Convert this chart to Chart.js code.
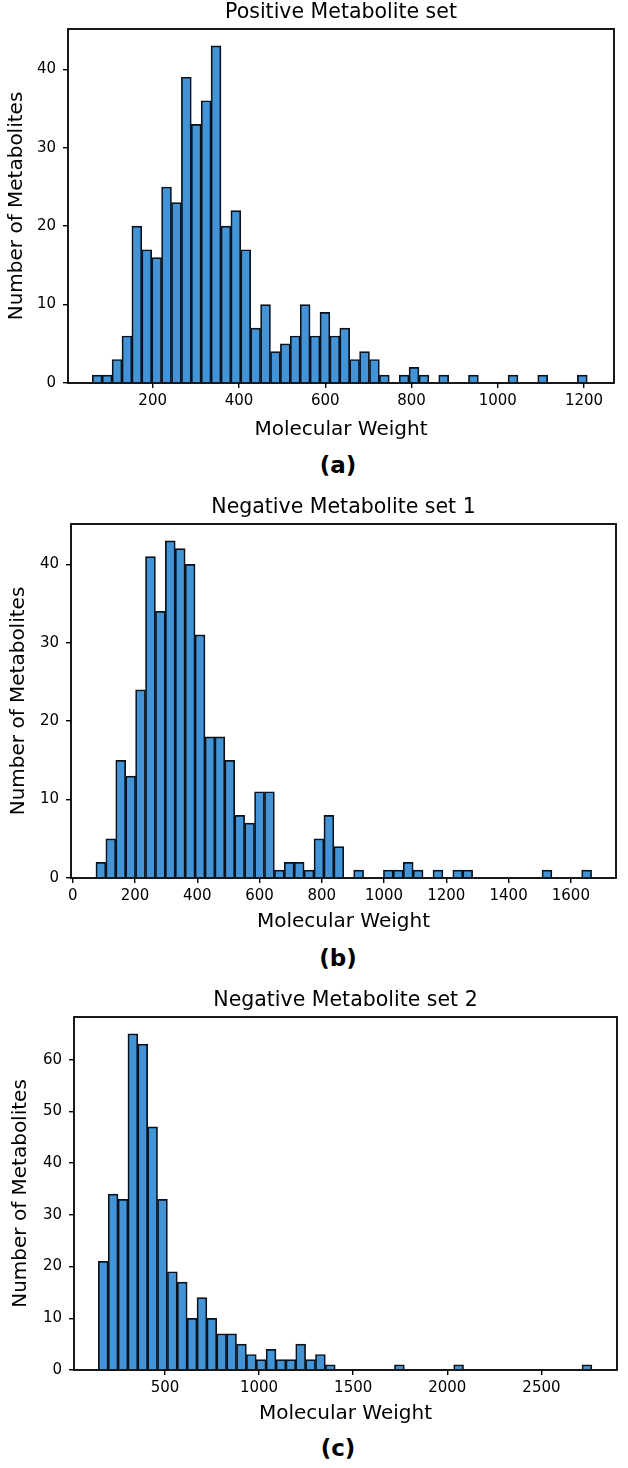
<!DOCTYPE html>
<html><head><meta charset="utf-8">
<script src="https://cdn.jsdelivr.net/npm/chart.js@4.4.1/dist/chart.umd.min.js"></script>
<style>
html,body{margin:0;padding:0;background:#fff;width:628px;height:1468px;overflow:hidden;}
.panel{position:absolute;left:0;width:628px;}
.tag{position:absolute;width:100px;text-align:center;font-family:"DejaVu Sans",sans-serif;font-weight:bold;font-size:23px;line-height:26px;color:#000;}
</style></head><body>
<div class="panel" id="pa"><canvas id="ca"></canvas></div>
<div class="panel" id="pb"><canvas id="cb"></canvas></div>
<div class="panel" id="pc"><canvas id="cc"></canvas></div>
<div class="tag" id="ta">(a)</div>
<div class="tag" id="tb">(b)</div>
<div class="tag" id="tc">(c)</div>
<script>
// ---------- data ----------
const titleA = "Positive Metabolite set";
const titleB = "Negative Metabolite set 1";
const titleC = "Negative Metabolite set 2";
const xLabel = "Molecular Weight";
const yLabel = "Number of Metabolites";

const binStartA = 60, binWidthA = 22.95;
const countsA = [1,1,3,6,20,17,16,25,23,39, 33,36,43,20,22,17,7,10,4,5, 6,10,6,9,6,7,3,4,3,1, 0,1,2,1,0,1,0,0,1,0, 0,0,1,0,0,1,0,0,0,1];
const xTicksA = [200,400,600,800,1000,1200];
const yTicksA = [0,10,20,30,40];

const binStartB = 74.6, binWidthB = 31.84;
const countsB = [2,5,15,13,24,41,34,43,42,40, 31,18,18,15,8,7,11,11,1,2, 2,1,5,8,4,0,1,0,0,1, 1,2,1,0,1,0,1,1,0,0, 0,0,0,0,0,1,0,0,0,1];
const xTicksB = [0,200,400,600,800,1000,1200,1400,1600];
const yTicksB = [0,10,20,30,40];

const binStartC = 146, binWidthC = 52.44;
const countsC = [21,34,33,65,63,47,33,19,17,10, 14,10,7,7,5,3,2,4,2,2, 5,2,3,1,0,0,0,0,0,0, 1,0,0,0,0,0,1,0,0,0, 0,0,0,0,0,0,0,0,0,1];
const xTicksC = [500,1000,1500,2000,2500];
const yTicksC = [0,10,20,30,40,50,60];

// ---------- layout / style ----------
const FONT = "DejaVu Sans";
const panels = [
  {cv:'ca', div:'pa', tag:'ta', title:titleA, start:binStartA, w:binWidthA, counts:countsA, xt:xTicksA, yt:yTicksA,
   xmin:3.7, xmax:1269.5, ymax:45.15, l:68, r:614, t:29, b:383, yTitlePad:5, xTitleDy:47, tagY:465},
  {cv:'cb', div:'pb', tag:'tb', title:titleB, start:binStartB, w:binWidthB, counts:countsB, xt:xTicksB, yt:yTicksB,
   xmin:-5.5, xmax:1745, ymax:45.15, l:71, r:616, t:524, b:878, yTitlePad:6.5, xTitleDy:44, tagY:958},
  {cv:'cc', div:'pc', tag:'tc', title:titleC, start:binStartC, w:binWidthC, counts:countsC, xt:xTicksC, yt:yTicksC,
   xmin:16.9, xmax:2901.4, ymax:68.25, l:74, r:617, t:1017, b:1370, yTitlePad:8.5, xTitleDy:44, tagY:1448}
];
const TITLE_H = 29, XAXIS_H = 58;

const framePlugin = {
  id:'frame',
  afterDatasetsDraw(chart){
    const a = chart.chartArea, ctx = chart.ctx;
    ctx.save();
    ctx.strokeStyle = '#000'; ctx.lineWidth = 1.8;
    ctx.strokeRect(a.left, a.top, a.right - a.left, a.bottom - a.top);
    ctx.restore();
  }
};

panels.forEach(p => {
  const top = p.t - TITLE_H;
  const height = p.b - top + XAXIS_H;
  const div = document.getElementById(p.div);
  div.style.top = top + 'px'; div.style.height = height + 'px';
  const cv = document.getElementById(p.cv);
  cv.width = 628; cv.height = height;
  const tag = document.getElementById(p.tag);
  tag.style.left = (338 - 50) + 'px'; tag.style.top = (p.tagY - 13) + 'px';

  const data = p.counts.map((c, i) => ({x: p.start + (i + 0.5) * p.w, y: c}));
  const tickFont = {family: FONT, size: 15};
  const titleFont = {family: FONT, size: 20, lineHeight: 1.2};
  new Chart(cv, {
    type: 'bar',
    data: {datasets: [{
      data: data,
      backgroundColor: '#4394d6',
      borderColor: '#08121c',
      borderWidth: 1.7,
      borderSkipped: 'start',
      barPercentage: 1.0,
      categoryPercentage: 1.0
    }]},
    options: {
      responsive: false, maintainAspectRatio: false, animation: false, devicePixelRatio: 1,
      layout: {padding: {left: 0, right: 628 - p.r, top: 0, bottom: 0}},
      plugins: {
        legend: {display: false}, tooltip: {enabled: false},
        title: {display: true, text: p.title, fullSize: false, color: '#000',
          font: {family: FONT, size: 20.5, weight: 'normal', lineHeight: 1.2}, padding: {top: 0, bottom: TITLE_H - 24.6}}
      },
      scales: {
        x: {
          type: 'linear', min: p.xmin, max: p.xmax, offset: false,
          afterFit: s => { s.height = XAXIS_H; },
          afterBuildTicks: s => { s.ticks = p.xt.map(v => ({value: v})); },
          grid: {display: true, offset: false, drawOnChartArea: false, drawTicks: true, tickLength: 5, color: '#000', lineWidth: 1.4},
          border: {display: false},
          ticks: {color: '#000', font: tickFont, padding: 4, autoSkip: false, maxRotation: 0, minRotation: 0,
                  callback: v => String(v)},
          title: {display: true, text: xLabel, color: '#000', font: titleFont,
            padding: {top: 0, bottom: XAXIS_H - p.xTitleDy - 12}}
        },
        y: {
          type: 'linear', min: 0, max: p.ymax,
          afterFit: s => { s.width = p.l; },
          afterBuildTicks: s => { s.ticks = p.yt.map(v => ({value: v})); },
          grid: {display: true, offset: false, drawOnChartArea: false, drawTicks: true, tickLength: 5, color: '#000', lineWidth: 1.4},
          border: {display: false},
          ticks: {color: '#000', font: tickFont, padding: 7, callback: v => String(v)},
          title: {display: true, text: yLabel, color: '#000', font: titleFont, padding: {top: p.yTitlePad, bottom: 0}}
        }
      }
    },
    plugins: [framePlugin]
  });
});
</script>
</body></html>
